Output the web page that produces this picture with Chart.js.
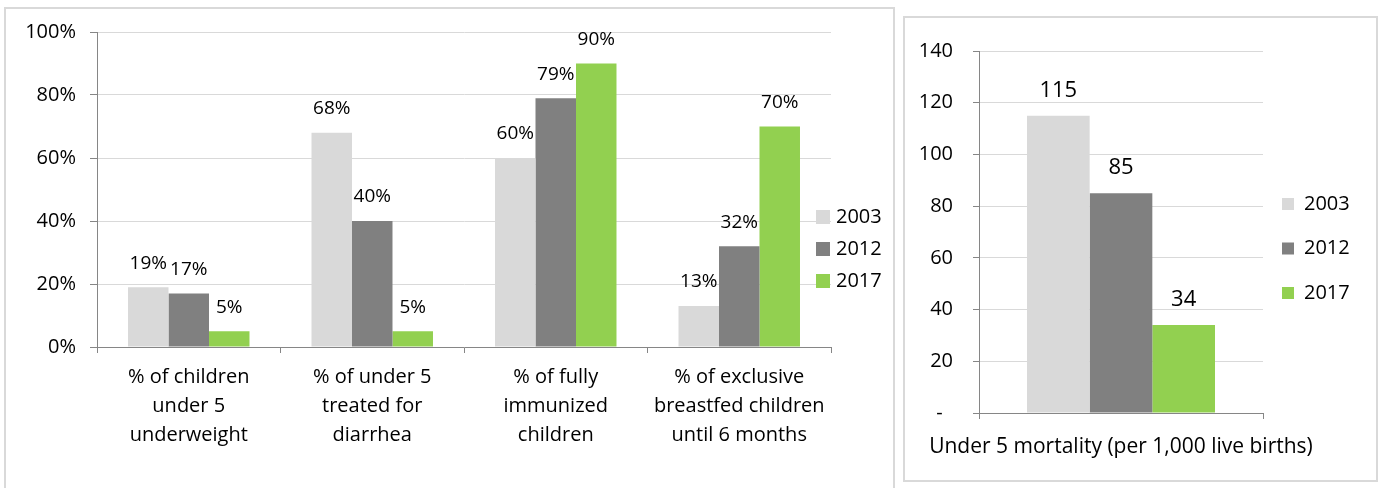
<!DOCTYPE html>
<html>
<head>
<meta charset="utf-8">
<script src="https://cdn.jsdelivr.net/npm/chart.js@4.4.0/dist/chart.umd.min.js"></script>
<style>
  body { margin: 0; background: #fff; width: 1384px; height: 488px; overflow: hidden; position: relative; }
  .panel { position: absolute; border: 2px solid #d9d9d9; box-sizing: border-box; }
  #leftPanel { left: 4px; top: 7px; width: 891px; height: 500px; }
  #rightPanel { left: 903px; top: 16px; width: 475px; height: 466px; }
  canvas { position: absolute; }
  #leftChart { left: 0; top: 0; }
  #rightChart { left: 903px; top: 16px; }
</style>
</head>
<body>
<div class="panel" id="leftPanel"></div>
<div class="panel" id="rightPanel"></div>
<canvas id="leftChart" width="895" height="488"></canvas>
<canvas id="rightChart" width="475" height="466"></canvas>
<script>
  'use strict';

  const years = ['2003', '2012', '2017'];
  const colors = ['#d9d9d9', '#808080', '#92d050'];

  const indicatorLabels = [
    ['% of children', 'under 5', 'underweight'],
    ['% of under 5', 'treated for', 'diarrhea'],
    ['% of fully', 'immunized', 'children'],
    ['% of exclusive', 'breastfed children', 'until 6 months']
  ];
  const pct2003 = [19, 68, 60, 13];
  const pct2012 = [17, 40, 79, 32];
  const pct2017 = [5, 5, 90, 70];
  const pctMax = 100;
  const pctStep = 20;

  const mortalityLabels = ['Under 5 mortality (per 1,000 live births)'];
  const mortality2003 = [115];
  const mortality2012 = [85];
  const mortality2017 = [34];
  const mortalityMax = 140;
  const mortalityStep = 20;

  const FONT = 'Open Sans';

  // value labels above each bar
  const valueLabels = {
    id: 'valueLabels',
    afterDatasetsDraw: function (chart, args, opts) {
      const ctx = chart.ctx;
      ctx.save();
      ctx.font = opts.size + 'px "' + FONT + '"';
      ctx.fillStyle = '#000';
      ctx.textAlign = 'center';
      ctx.textBaseline = 'middle';
      chart.data.datasets.forEach((ds, i) => {
        chart.getDatasetMeta(i).data.forEach((bar, j) => {
          ctx.fillText(ds.data[j] + opts.suffix, bar.x, bar.y - opts.offset);
        });
      });
      ctx.restore();
    }
  };

  // Excel-style legend that sits partly over the plot area
  const sideLegend = {
    id: 'sideLegend',
    afterDraw: function (chart, args, opts) {
      const ctx = chart.ctx;
      const area = chart.chartArea;
      ctx.save();
      ctx.font = '20px "' + FONT + '"';
      ctx.textBaseline = 'middle';
      ctx.textAlign = 'left';
      chart.data.datasets.forEach((ds, i) => {
        const y = opts.top + i * opts.gap;
        const x = area.right + opts.dx;
        ctx.fillStyle = ds.backgroundColor;
        ctx.fillRect(x, y - opts.box / 2, opts.box, opts.box);
        ctx.fillStyle = '#000';
        ctx.fillText(ds.label, x + opts.box + opts.textGap, y);
      });
      ctx.restore();
    }
  };

  function makeDatasets(series) {
    return series.map((data, i) => ({
      label: years[i],
      data: data,
      backgroundColor: colors[i],
      borderWidth: 0,
      categoryPercentage: 0.662,
      barPercentage: 1
    }));
  }

  new Chart(document.getElementById('leftChart'), {
    type: 'bar',
    data: {
      labels: indicatorLabels,
      datasets: makeDatasets([pct2003, pct2012, pct2017])
    },
    plugins: [valueLabels, sideLegend],
    options: {
      responsive: false,
      animation: false,
      layout: { padding: { left: 0, top: 32, right: 64, bottom: 0 } },
      plugins: {
        legend: { display: false },
        tooltip: { enabled: false },
        valueLabels: { size: 19, suffix: '%', offset: 24 },
        sideLegend: { top: 217, gap: 32, dx: -15, box: 14, textGap: 6 }
      },
      scales: {
        x: {
          grid: { drawOnChartArea: false, drawTicks: true, tickLength: 6, tickColor: '#868686' },
          border: { color: '#868686' },
          ticks: {
            color: '#000',
            font: { family: FONT, size: 20, lineHeight: 1.45 },
            padding: 10,
            maxRotation: 0,
            autoSkip: false
          },
          afterFit: function (scale) { scale.height = 141; }
        },
        y: {
          min: 0,
          max: pctMax,
          ticks: {
            stepSize: pctStep,
            callback: v => v + '%',
            color: '#000',
            font: { family: FONT, size: 20 },
            padding: 14
          },
          grid: { color: '#d9d9d9', tickLength: 7, tickColor: '#868686' },
          border: { color: '#868686' },
          afterFit: function (scale) { scale.width = 97; }
        }
      }
    }
  });

  new Chart(document.getElementById('rightChart'), {
    type: 'bar',
    data: {
      labels: mortalityLabels,
      datasets: makeDatasets([mortality2003, mortality2012, mortality2017])
    },
    plugins: [valueLabels, sideLegend],
    options: {
      responsive: false,
      animation: false,
      layout: { padding: { left: 0, top: 35, right: 115, bottom: 0 } },
      plugins: {
        legend: { display: false },
        tooltip: { enabled: false },
        valueLabels: { size: 22, suffix: '', offset: 25 },
        sideLegend: { top: 188, gap: 44.5, dx: 19, box: 12, textGap: 10 }
      },
      scales: {
        x: {
          grid: { drawOnChartArea: false, drawTicks: true, tickLength: 6, tickColor: '#868686' },
          border: { color: '#868686' },
          ticks: {
            color: '#000',
            font: { family: FONT, size: 21 },
            padding: 15,
            maxRotation: 0,
            autoSkip: false
          },
          afterFit: function (scale) {
            // let the long category label hang past the plot edges
            scale.height = 69;
            scale.paddingLeft = 0;
            scale.paddingRight = 0;
          }
        },
        y: {
          min: 0,
          max: mortalityMax,
          ticks: {
            stepSize: mortalityStep,
            callback: v => (v === 0 ? '-  ' : v),
            color: '#000',
            font: { family: FONT, size: 20 },
            padding: 20
          },
          grid: { color: '#d9d9d9', tickLength: 6, tickColor: '#868686' },
          border: { color: '#868686' },
          afterFit: function (scale) { scale.width = 76; }
        }
      }
    }
  });
</script>
</body>
</html>
